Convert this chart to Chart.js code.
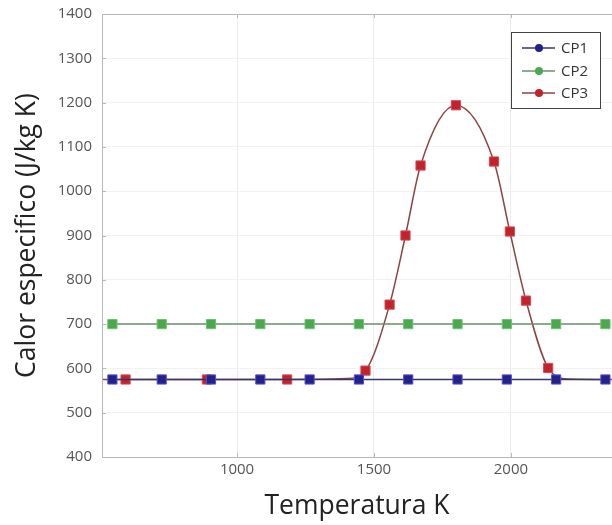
<!DOCTYPE html>
<html>
<head>
<meta charset="utf-8">
<script src="https://cdn.jsdelivr.net/npm/chart.js@4.4.1/dist/chart.umd.min.js"></script>
<style>
  html, body { margin: 0; padding: 0; background: #fff; }
  #chart { display: block; }
</style>
</head>
<body>
<canvas id="chart" width="612" height="525"></canvas>
<script>
"use strict";

// Data
const cpX = [545, 725, 905, 1085, 1265, 1445, 1625, 1805, 1985, 2165, 2345];
const cp1Y = [575, 575, 575, 575, 575, 575, 575, 575, 575, 575, 575];
const cp2Y = [700, 700, 700, 700, 700, 700, 700, 700, 700, 700, 700];
const cp3X = [507, 593, 890, 1183, 1400, 1469, 1557, 1615, 1670, 1799, 1938, 1996, 2055, 2136, 2210, 2369];
const cp3Y = [575, 575, 575, 575, 577, 595, 744, 900, 1058, 1194, 1067, 909, 753, 601, 576, 575];
const cp3Marked = [false, true, true, true, false, true, true, true, true, true, true, true, true, true, false, false];
const xTicks = [1000, 1500, 2000];
const yTicks = [400, 500, 600, 700, 800, 900, 1000, 1100, 1200, 1300, 1400];
const seriesNames = ["CP1", "CP2", "CP3"];

const lineColors = ["#34346e", "#6b8f6b", "#8a4545"];
const markColors = ["#22228c", "#4aa94f", "#c1222c"];
const markBorders = ["#5a4fc8", "#6cc06f", "#d84a50"];

function points(xs, ys) {
    return xs.map(function (x, i) { return {x: x, y: ys[i]}; });
}

// Frame, inward ticks and legend box
const framePlugin = {
    id: "frame",
    afterDraw: function (chart) {
        const ctx = chart.ctx;
        const a = chart.chartArea;
        const xs = chart.scales.x, ys = chart.scales.y;
        ctx.save();
        ctx.strokeStyle = "#b8b8b8";
        ctx.lineWidth = 1;
        ctx.strokeRect(a.left + 0.5, a.top + 0.5, a.right - a.left, a.bottom - a.top);
        ctx.beginPath();
        yTicks.forEach(function (v) {
            const y = Math.round(ys.getPixelForValue(v)) + 0.5;
            ctx.moveTo(a.left, y); ctx.lineTo(a.left + 4, y);
        });
        xTicks.forEach(function (v) {
            const x = Math.round(xs.getPixelForValue(v)) + 0.5;
            ctx.moveTo(x, a.bottom); ctx.lineTo(x, a.bottom - 4);
            ctx.moveTo(x, a.top); ctx.lineTo(x, a.top + 4);
        });
        ctx.stroke();

        // legend
        ctx.fillStyle = "#fff";
        ctx.fillRect(511.5, 32.5, 89, 76);
        ctx.strokeStyle = "#444";
        ctx.strokeRect(511.5, 32.5, 89, 76);
        const rows = [48, 71, 93];
        ctx.font = "15px 'Open Sans'";
        ctx.textBaseline = "middle";
        rows.forEach(function (y, i) {
            ctx.strokeStyle = lineColors[i];
            ctx.lineWidth = 1.5;
            ctx.beginPath();
            ctx.moveTo(522, y); ctx.lineTo(555, y);
            ctx.stroke();
            ctx.fillStyle = markColors[i];
            ctx.beginPath();
            ctx.arc(539, y, 4, 0, Math.PI * 2);
            ctx.fill();
            ctx.fillStyle = "#333";
            ctx.fillText(seriesNames[i], 561, y + 1);
        });
        ctx.restore();
    }
};

const ctx = document.getElementById("chart").getContext("2d");
new Chart(ctx, {
    type: "scatter",
    data: {
        datasets: [
            {
                label: "CP1",
                data: points(cpX, cp1Y),
                showLine: true,
                borderColor: lineColors[0],
                borderWidth: 1.5,
                pointStyle: "rect",
                pointRadius: 6.5,
                pointBackgroundColor: markColors[0],
                pointBorderColor: markBorders[0],
                pointBorderWidth: 1,
                order: 1
            },
            {
                label: "CP2",
                data: points(cpX, cp2Y),
                showLine: true,
                borderColor: lineColors[1],
                borderWidth: 1.5,
                pointStyle: "rect",
                pointRadius: 6.5,
                pointBackgroundColor: markColors[1],
                pointBorderColor: markBorders[1],
                pointBorderWidth: 1,
                order: 2
            },
            {
                label: "CP3",
                data: points(cp3X, cp3Y),
                showLine: true,
                cubicInterpolationMode: "monotone",
                borderColor: lineColors[2],
                borderWidth: 1.5,
                pointStyle: "rect",
                pointRadius: cp3Marked.map(function (m) { return m ? 6.5 : 0; }),
                pointBackgroundColor: markColors[2],
                pointBorderColor: markBorders[2],
                pointBorderWidth: 1,
                order: 3
            }
        ]
    },
    options: {
        responsive: false,
        animation: false,
        layout: {autoPadding: false, padding: {top: 14, left: 0, right: 0, bottom: 0}},
        plugins: {
            legend: {display: false},
            tooltip: {enabled: false}
        },
        scales: {
            x: {
                type: "linear",
                min: 507,
                max: 2369,
                afterBuildTicks: function (scale) {
                    scale.ticks = xTicks.map(function (v) { return {value: v}; });
                },
                afterFit: function (scale) {
                    scale.height = 68;
                    scale.paddingLeft = 0;
                    scale.paddingRight = 0;
                },
                grid: {color: "#ececec", drawTicks: false},
                border: {display: false},
                ticks: {
                    padding: 4,
                    color: "#555",
                    font: {family: "'Open Sans'", size: 15},
                    callback: function (v) { return String(v); }
                },
                title: {
                    display: true,
                    text: "Temperatura K",
                    color: "#222",
                    font: {family: "'Open Sans'", size: 26.5},
                    padding: {top: 0, bottom: 3}
                }
            },
            y: {
                type: "linear",
                min: 400,
                max: 1400,
                afterBuildTicks: function (scale) {
                    scale.ticks = yTicks.map(function (v) { return {value: v}; });
                },
                afterFit: function (scale) {
                    scale.width = 102;
                    scale.paddingTop = 0;
                    scale.paddingBottom = 0;
                },
                grid: {color: "#f2f2f2", drawTicks: false},
                border: {display: false},
                ticks: {
                    padding: 10,
                    color: "#555",
                    font: {family: "'Open Sans'", size: 15},
                    callback: function (v) { return String(v); }
                },
                title: {
                    display: true,
                    text: "Calor especifico (J/kg K)",
                    color: "#222",
                    font: {family: "'Open Sans'", size: 26.5},
                    padding: {top: 12, bottom: 0}
                }
            }
        }
    },
    plugins: [framePlugin]
});
</script>
</body>
</html>
